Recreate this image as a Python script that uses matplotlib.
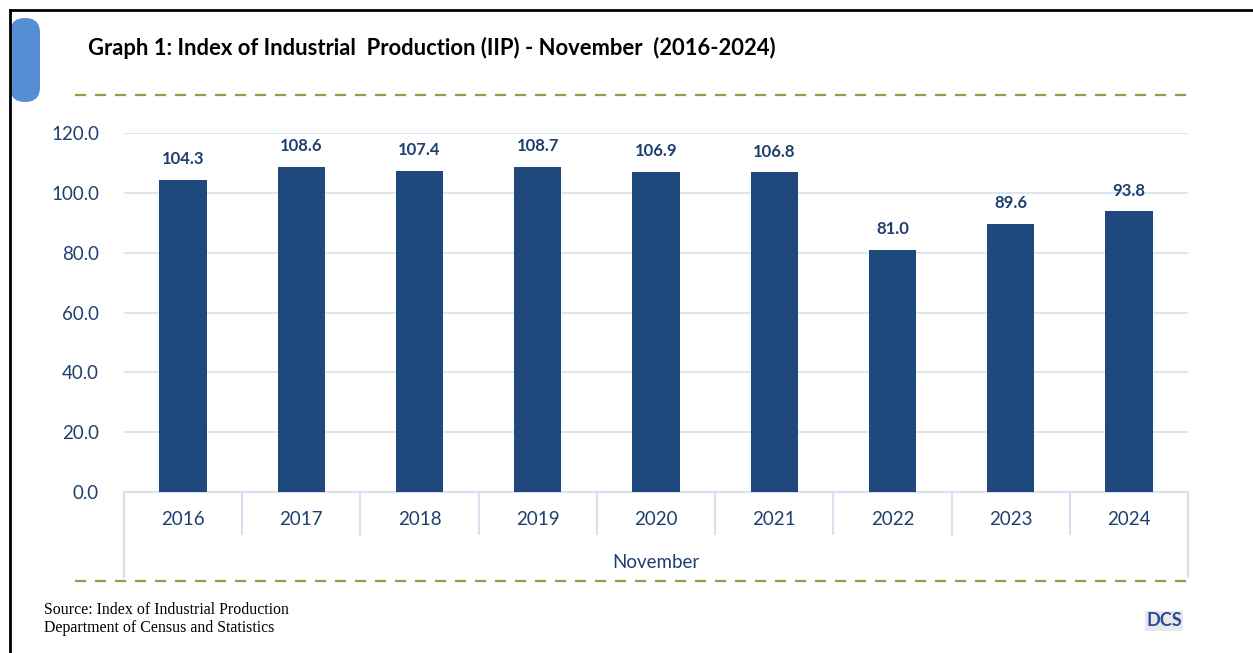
import numpy as np
import matplotlib.pyplot as plt
from matplotlib.patches import FancyBboxPatch
from matplotlib.lines import Line2D

years = ['2016', '2017', '2018', '2019', '2020', '2021', '2022', '2023', '2024']
iip = [104.3, 108.6, 107.4, 108.7, 106.9, 106.8, 81.0, 89.6, 93.8]
yticks = [0, 20, 40, 60, 80, 100, 120]

W, H = 1253, 653
bar_col = '#1F497D'
txt_col = '#1F3F6E'
grid_col = '#D6E0F0'
green = '#86A24A'

plt.rcParams['font.family'] = ['Lato', 'DejaVu Sans']

fig = plt.figure(figsize=(W / 100, H / 100), dpi=100)

def fx(px):
    return px / W

def fy(py):
    return 1 - py / H

# frame lines (top and left)
fig.add_artist(Line2D([fx(10), fx(1253)], [fy(10), fy(10)], color='black', lw=2))
fig.add_artist(Line2D([fx(10), fx(10)], [fy(10), fy(653)], color='black', lw=2))

# blue tab on the left
tab = FancyBboxPatch((fx(10), fy(102)), fx(30), fy(18) - fy(102),
                     boxstyle='round,pad=0,rounding_size=0.012',
                     transform=fig.transFigure, facecolor='#558ED5',
                     edgecolor='none', mutation_aspect=W / H)
fig.add_artist(tab)

fig.text(fx(88), fy(48), 'Graph 1: Index of Industrial  Production (IIP) - November  (2016-2024)',
         fontsize=15.8, fontweight='bold', color='black', va='center', ha='left')

# green dashed separators
for yy in (95, 581):
    fig.add_artist(Line2D([fx(75), fx(1188)], [fy(yy), fy(yy)], color=green,
                          lw=1.6, linestyle=(0, (5, 4))))

ax = fig.add_axes([fx(124), fy(492), fx(1188) - fx(124), fy(133) - fy(492)])
x = np.arange(len(years))
ax.bar(x, iip, width=0.4, color=bar_col, zorder=3)
for xi, v in zip(x, iip):
    ax.text(xi, v + 4.3, f'{v:.1f}', ha='center', va='bottom', fontsize=12,
            fontweight='bold', color=txt_col, clip_on=False)

ax.set_xlim(-0.5, len(years) - 0.5)
ax.set_ylim(0, 120)
ax.set_yticks(yticks)
ax.set_yticklabels([f'{t:.1f}' for t in yticks], fontsize=13.5, color=txt_col)
ax.tick_params(axis='y', length=0, pad=18)
ax.set_xticks(x)
ax.set_xticklabels(years, fontsize=13.5, color=txt_col)
ax.tick_params(axis='x', length=0, pad=14)
ax.grid(axis='y', color=grid_col, lw=1.2, zorder=0)
for s in ['top', 'right', 'left']:
    ax.spines[s].set_visible(False)
ax.spines['bottom'].set_color(grid_col)
ax.spines['bottom'].set_linewidth(1.5)

# category separators under the axis
trans = ax.get_xaxis_transform()
for i in range(len(years) + 1):
    b = i - 0.5
    low = -0.238 if i in (0, len(years)) else -0.117
    ax.plot([b, b], [0, low], transform=trans, color=grid_col, lw=1.5, clip_on=False)

fig.text((fx(124) + fx(1188)) / 2, fy(562), 'November', fontsize=13.5,
         color=txt_col, ha='center', va='center')

fig.text(fx(44), fy(610), 'Source: Index of Industrial Production', fontsize=11.4,
         family='Liberation Serif', color='black', va='center')
fig.text(fx(44), fy(628), 'Department of Census and Statistics', fontsize=11.4,
         family='Liberation Serif', color='black', va='center')

fig.text(fx(1164), fy(621), 'DCS', fontsize=13, fontweight='bold', color='#2B4A9A',
         ha='center', va='center',
         bbox=dict(facecolor='#E8E8EC', edgecolor='none', pad=1))

fig.savefig('out.png', dpi=100)
